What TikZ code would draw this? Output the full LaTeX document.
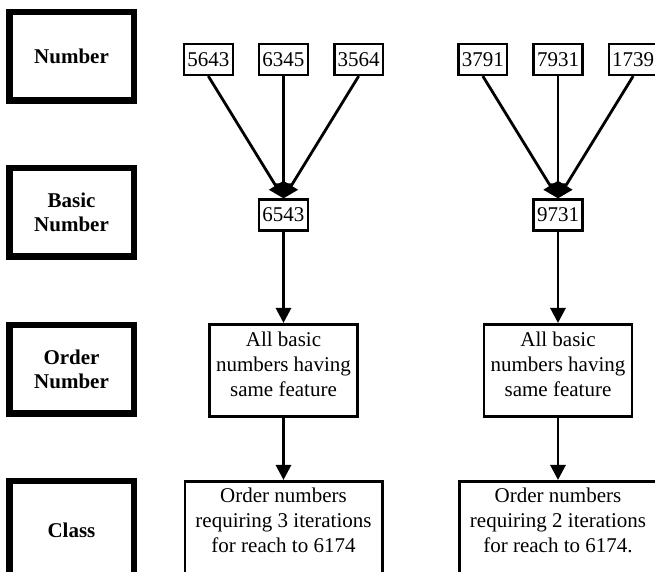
\documentclass[tikz,border=0pt]{standalone}
\usepackage{fontspec}
\setmainfont{Liberation Serif}
\usetikzlibrary{arrows.meta,positioning}

\newcommand{\padbox}[1]{\rule[-#1]{0pt}{0pt}}

\begin{document}
\begin{tikzpicture}[x=.5pt,y=-.5pt,
            font=\fontsize{10.5}{12.5}\selectfont,
            level/.style={draw,line width=3.25pt,minimum width=62.25pt,minimum height=44.25pt,inner sep=0pt,align=center,font=\fontsize{10.5}{12}\selectfont\bfseries},
            num/.style={draw,line width=1.2pt,minimum width=24.4pt,minimum height=15.4pt,inner sep=0pt,node distance=12pt},
            group/.style={draw,line width=1.4pt,minimum width=74pt,inner xsep=0pt,inner ysep=3.8pt,align=center,anchor=north},
            klass/.style={group,minimum width=98.6pt,inner ysep=3.5pt},
            link/.style={draw,line width=1.4pt,-{Triangle[length=7.5pt,width=7.5pt]}}
          ]
          \useasboundingbox (0,0) rectangle (655,572);

          %labels
          \node[level] (lnumber) at (71.5,56.5) {Number};
          \node[level] (lbasic) at (71.5,212.5) {Basic\\Number};
          \node[level] (lorder) at (71.5,369.5) {Order\\Number};
          \node[level,minimum height=48.75pt] (lclass) at (71.5,530) {Class};

          %first column
          \node[num] (m2) at (283.5,59.5) {6345};
          \node[num,left=of m2] (m1) {5643};
          \node[num,right=of m2] (m3) {3564};
          \node[num] (mbasic) at (283.5,215) {6543};
          \node[group] (morder) at (283.5,323) {All basic\\numbers having\\same feature\padbox{6.3pt}};
          \node[klass] (mclass) at (283.5,480) {Order numbers\\requiring 3 iterations\\for reach to 6174\padbox{14pt}};

          %second column
          \node[num] (r2) at (558,59.5) {7931};
          \node[num,left=of r2] (r1) {3791};
          \node[num,right=of r2] (r3) {1739};
          \node[num] (rbasic) at (558,215) {9731};
          \node[group] (rorder) at (558,323) {All basic\\numbers having\\same feature\padbox{6.3pt}};
          \node[klass] (rclass) at (558,480) {Order numbers\\requiring 2 iterations\\for reach to 6174.\padbox{14pt}};

          %arrows
          \foreach \i in {1,2,3} {
            \draw[link] (m\i.south) -- (mbasic.north);
            \draw[link] (r\i.south) -- (rbasic.north);
          }
          \draw[link] (mbasic) -- (morder);
          \draw[link] (morder) -- (mclass);
          \draw[link] (rbasic) -- (rorder);
          \draw[link] (rorder) -- (rclass);
      \end{tikzpicture}
\end{document}
